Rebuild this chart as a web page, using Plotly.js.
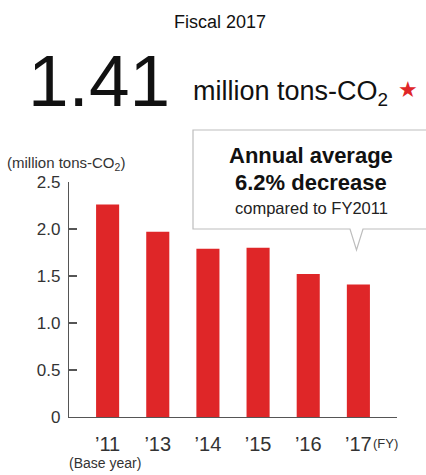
<!DOCTYPE html>
<html>
<head>
<meta charset="utf-8">
<script src="https://cdn.plot.ly/plotly-3.0.1.min.js"></script>
<style>html,body{margin:0;padding:0;background:#fff;}#chart{width:426px;height:475px;}</style>
</head>
<body>
<div id="chart"></div>
<script>
const years = ["2011", "2013", "2014", "2015", "2016", "2017"];
const yearLabels = ["\u201911", "\u201913", "\u201914", "\u201915", "\u201916", "\u201917"];
const emissions = [2.26, 1.97, 1.79, 1.80, 1.52, 1.41];
const yTickVals = [0, 0.5, 1.0, 1.5, 2.0, 2.5];
const yTickText = ["0", "0.5", "1.0", "1.5", "2.0", "2.5"];

const FONT = "Liberation Sans, Arial, sans-serif";
const W = 426, H = 475, L = 69, R = 29, T = 182, B = 58;
const pw = W - L - R, ph = H - T - B;
const px = x => (x - L) / pw;
const py = y => (H - B - y) / ph;

const trace = {
  type: "bar",
  x: years,
  y: emissions,
  marker: {color: "#df2628"},
  width: 0.46,
  hoverinfo: "skip"
};

const boxPath = `M ${px(193)} ${py(130)} L ${px(432)} ${py(130)} L ${px(432)} ${py(229)} L ${px(363)} ${py(229)} L ${px(356.5)} ${py(250)} L ${px(350)} ${py(229)} L ${px(193)} ${py(229)} Z`;

const layout = {
  width: W, height: H,
  margin: {l: L, r: R, t: T, b: B, pad: 0},
  paper_bgcolor: "#fff", plot_bgcolor: "#fff",
  showlegend: false,
  font: {family: FONT, color: "#333"},
  bargap: 0.54,
  xaxis: {
    type: "category",
    tickvals: years, ticktext: yearLabels,
    range: [-0.77, 5.77],
    showgrid: false, zeroline: false,
    showline: true, linecolor: "#555", linewidth: 1.2,
    ticks: "", ticklabelstandoff: 9,
    tickfont: {family: FONT, size: 20, color: "#333"},
    fixedrange: true
  },
  yaxis: {
    range: [0, 2.5],
    tickvals: yTickVals, ticktext: yTickText,
    showgrid: false, zeroline: false,
    showline: true, linecolor: "#555", linewidth: 1.2,
    ticks: "inside", ticklen: 8, tickcolor: "#555", tickwidth: 1.2,
    ticklabelstandoff: 4,
    tickfont: {family: FONT, size: 17, color: "#333"},
    fixedrange: true
  },
  shapes: [{
    type: "path", xref: "paper", yref: "paper", path: boxPath,
    fillcolor: "#fff", line: {color: "#bdbdbd", width: 1.2}, layer: "above"
  }],
  annotations: [
    {text: "Fiscal 2017", x: px(220), y: py(22), xref: "paper", yref: "paper", showarrow: false, xanchor: "center", yanchor: "middle", font: {family: FONT, size: 18, color: "#111"}},
    {text: "1.41", x: px(99), y: py(80), xref: "paper", yref: "paper", showarrow: false, xanchor: "center", yanchor: "middle", font: {family: FONT, size: 73, color: "#111"}},
    {text: "million tons-CO<sub>2</sub>", x: px(290), y: py(93), xref: "paper", yref: "paper", showarrow: false, xanchor: "center", yanchor: "middle", font: {family: FONT, size: 27, color: "#111"}},
    {text: "\u2605", x: px(407.5), y: py(89), xref: "paper", yref: "paper", showarrow: false, xanchor: "center", yanchor: "middle", font: {family: "DejaVu Sans", size: 22, color: "#e02628"}},
    {text: "(million tons-CO<sub>2</sub>)", x: px(65.5), y: py(163), xref: "paper", yref: "paper", showarrow: false, xanchor: "center", yanchor: "middle", font: {family: FONT, size: 15, color: "#333"}},
    {text: "<b>Annual average</b>", x: px(311), y: py(155), xref: "paper", yref: "paper", showarrow: false, xanchor: "center", yanchor: "middle", font: {family: FONT, size: 22, color: "#111"}},
    {text: "<b>6.2% decrease</b>", x: px(311), y: py(182), xref: "paper", yref: "paper", showarrow: false, xanchor: "center", yanchor: "middle", font: {family: FONT, size: 22, color: "#111"}},
    {text: "compared to FY2011", x: px(311), y: py(208), xref: "paper", yref: "paper", showarrow: false, xanchor: "center", yanchor: "middle", font: {family: FONT, size: 16.5, color: "#222"}},
    {text: "(Base year)", x: px(105), y: py(463), xref: "paper", yref: "paper", showarrow: false, xanchor: "center", yanchor: "middle", font: {family: FONT, size: 14, color: "#333"}},
    {text: "(FY)", x: px(385), y: py(443), xref: "paper", yref: "paper", showarrow: false, xanchor: "center", yanchor: "middle", font: {family: FONT, size: 13, color: "#333"}}
  ]
};

Plotly.newPlot("chart", [trace], layout, {displayModeBar: false, staticPlot: true});
</script>
</body>
</html>
